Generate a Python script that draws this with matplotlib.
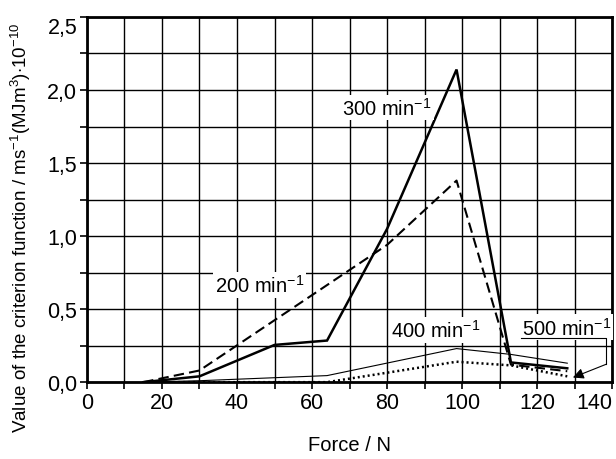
import matplotlib
matplotlib.use("Agg")
import matplotlib.pyplot as plt
from matplotlib.ticker import MultipleLocator, FuncFormatter

# Typsnitt: Arial-liknande
plt.rcParams["font.family"] = ["Liberation Sans", "DejaVu Sans"]
plt.rcParams["mathtext.fontset"] = "custom"
plt.rcParams["mathtext.rm"] = "Liberation Sans"
plt.rcParams["mathtext.it"] = "Liberation Sans:italic"

# Data
force_300 = [15, 30, 50, 64, 80, 98.5, 113, 128]
crit_300 = [0.0, 0.04, 0.255, 0.285, 1.05, 2.14, 0.135, 0.095]

force_200 = [15, 30, 80, 98.5, 113, 128]
crit_200 = [0.0, 0.08, 0.94, 1.38, 0.12, 0.075]

force_400 = [15, 30, 64, 98.5, 113, 128]
crit_400 = [0.0, 0.01, 0.045, 0.23, 0.19, 0.13]

force_500 = [15, 64, 98.5, 113, 128]
crit_500 = [0.0, 0.0, 0.14, 0.115, 0.04]

# Etiketter: (text, x, y)
labels = [
    (r"300 min$^{-1}$", 80, 1.88),
    (r"200 min$^{-1}$", 46, 0.665),
    (r"400 min$^{-1}$", 93, 0.36),
    (r"500 min$^{-1}$", 127.7, 0.375),
]
# Hänvisningslinje för 500 min^-1
leader_x = [115.7, 138.4, 138.4]
leader_y = [0.30, 0.30, 0.123]
arrow_tip = (129.5, 0.032)

fig = plt.figure(figsize=(6.16, 4.6), dpi=100)
ax = fig.add_axes([0.141, 0.167, 0.853, 0.794])

ax.plot(force_300, crit_300, color="black", lw=1.8, solid_joinstyle="miter")
ax.plot(force_200, crit_200, color="black", lw=1.5, linestyle=(0, (5, 2.5)))
ax.plot(force_400, crit_400, color="black", lw=0.8)
ax.plot(force_500, crit_500, color="black", lw=1.8, linestyle=(0, (0.8, 1.2)))

for text, x, y in labels:
    ax.text(x, y, text, ha="center", va="center", fontsize=14.5,
            bbox=dict(facecolor="white", edgecolor="none", pad=1.5), zorder=5)

ax.plot(leader_x, leader_y, color="black", lw=0.8, zorder=6, clip_on=False)
ax.annotate("", xy=arrow_tip, xytext=(leader_x[-1], leader_y[-1]),
            arrowprops=dict(arrowstyle="-|>", color="black", lw=0.8,
                            mutation_scale=16, shrinkA=0, shrinkB=0),
            zorder=6)

ax.set_xlim(0, 140)
ax.set_ylim(0, 2.5)
ax.xaxis.set_major_locator(MultipleLocator(20))
ax.xaxis.set_minor_locator(MultipleLocator(10))
ax.yaxis.set_major_locator(MultipleLocator(0.5))
ax.yaxis.set_minor_locator(MultipleLocator(0.25))
ax.yaxis.set_major_formatter(FuncFormatter(lambda v, p: f"{v:.1f}".replace(".", ",")))

ax.grid(True, which="both", color="black", lw=1.0)
ax.set_axisbelow(True)
ax.tick_params(which="both", direction="out", length=5, width=1.2, colors="black",
               labelsize=15.5)
ax.tick_params(axis="x", pad=2)
ax.tick_params(axis="y", pad=2)
for spine in ax.spines.values():
    spine.set_linewidth(2)

# Sista etiketterna flyttas in så de inte klipps
fig.canvas.draw()
for tick in ax.xaxis.get_major_ticks():
    if tick.label1.get_text() == "140":
        tick.label1.set_horizontalalignment("right")
for tick in ax.yaxis.get_major_ticks():
    if tick.label1.get_text() == "2,5":
        tick.label1.set_verticalalignment("top")

ax.set_xlabel("Force / N", fontsize=14.5, labelpad=16)
fig.text(0.034, 0.505,
         r"Value of the criterion function / ms$^{-1}$(MJm$^{3}$)$\cdot$10$^{-10}$",
         rotation=90, ha="center", va="center", fontsize=13.5)

fig.savefig("out.png", dpi=100)
